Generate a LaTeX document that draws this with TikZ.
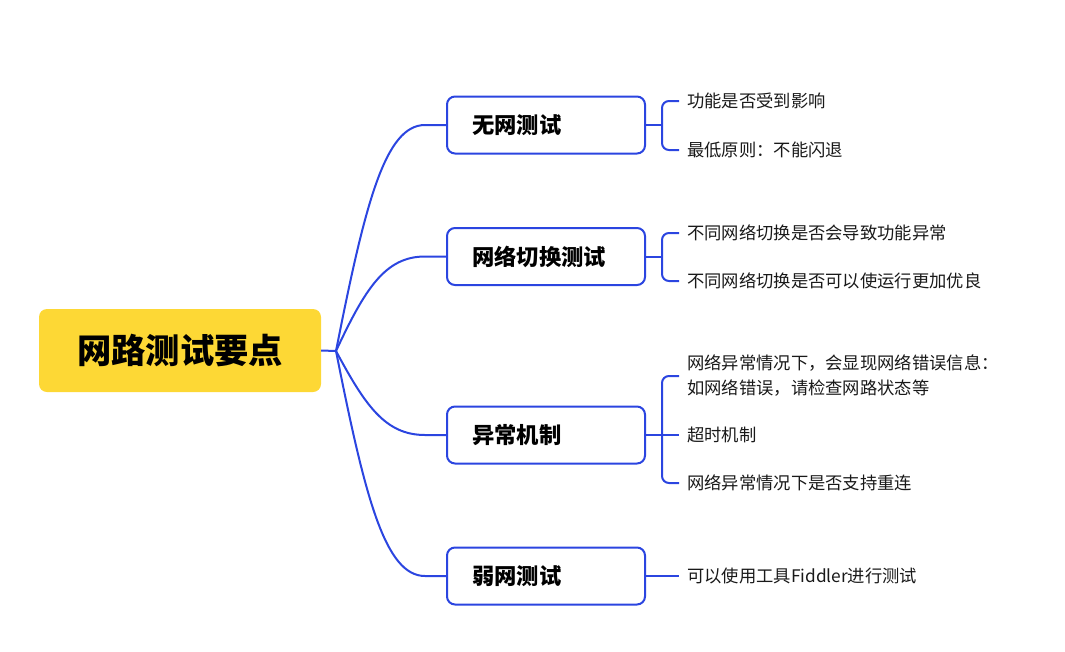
\documentclass[tikz,border=0pt]{standalone}
\usepackage{fontspec}
\setmainfont{Noto Sans CJK SC}
\definecolor{mblue}{RGB}{43,69,224}
\definecolor{myellow}{RGB}{253,216,53}
\definecolor{ink}{RGB}{25,25,25}
\begin{document}
\begin{tikzpicture}[x=1pt,y=-1pt,
  rootbox/.style={draw=none,fill=myellow,rounded corners=8pt,minimum width=282pt,minimum height=83pt,inner sep=0pt,
    font=\fontsize{34.3}{38}\selectfont\bfseries,text=black},
  branchbox/.style={draw=mblue,line width=2pt,fill=white,rounded corners=8pt,minimum width=198pt,minimum height=57pt,inner sep=0pt},
  branchtext/.style={anchor=west,inner sep=0pt,font=\fontsize{22.3}{26}\selectfont\bfseries,text=black},
  leaf/.style={anchor=west,inner sep=0pt,font=\fontsize{17.3}{25}\selectfont,text=ink,align=left},
  link/.style={draw=mblue,line width=2pt},
  brk/.style={draw=mblue,line width=2pt,rounded corners=7pt}]
\useasboundingbox (0,0) rectangle (1065,651);
% root
\node[rootbox] (root) at (180,350.5) {网路测试要点};
\coordinate (j) at (336,351);
\draw[link] (root.east) -- (j);
% branches
\foreach \n/\y in {b1/125,b2/256.5,b3/435,b4/576}{
  \node[branchbox] (\n) at (546,\y) {};
}
\node[branchtext] (t1) at (472,125) {无网测试};
\node[branchtext] (t2) at (472,256.5) {网络切换测试};
\node[branchtext] (t3) at (472,435) {异常机制};
\node[branchtext] (t4) at (472,576) {弱网测试};
% root to branch curves
\draw[link] (j) .. controls (365,204) and (385,125) .. (425,125) -- (b1.west);
\draw[link] (j) .. controls (365,289) and (385,256.5) .. (425,256.5) -- (b2.west);
\draw[link] (j) .. controls (365,405) and (385,435) .. (425,435) -- (b3.west);
\draw[link] (j) .. controls (365,497) and (385,576) .. (425,576) -- (b4.west);
% leaves
\node[leaf] (l11) at (687,101) {功能是否受到影响};
\node[leaf] (l12) at (687,150) {最低原则：不能闪退};
\node[leaf] (l21) at (687,233) {不同网络切换是否会导致功能异常};
\node[leaf] (l22) at (687,281) {不同网络切换是否可以使运行更加优良};
\node[leaf] (l31) at (687,376) {网络异常情况下，会显现网络错误信息：\\如网络错误，请检查网路状态等};
\node[leaf] (l32) at (687,435) {超时机制};
\node[leaf] (l33) at (687,483) {网络异常情况下是否支持重连};
\node[leaf] (l41) at (687,576) {可以使用工具Fiddler进行测试};
% brackets
\coordinate (k1) at (662,125);
\draw[link] (b1.east) -- (k1);
\draw[brk] ([xshift=-8pt]l11.west) -- (662,101) -- (662,150) -- ([xshift=-8pt]l12.west);
\coordinate (k2) at (662,256.5);
\draw[link] (b2.east) -- (k2);
\draw[brk] ([xshift=-8pt]l21.west) -- (662,233) -- (662,281) -- ([xshift=-8pt]l22.west);
\draw[link] (b3.east) -- ([xshift=-8pt]l32.west);
\draw[brk] ([xshift=-8pt]l31.west) -- (662,376) -- (662,483) -- ([xshift=-8pt]l33.west);
\draw[link] (b4.east) -- ([xshift=-8pt]l41.west);
\end{tikzpicture}
\end{document}
